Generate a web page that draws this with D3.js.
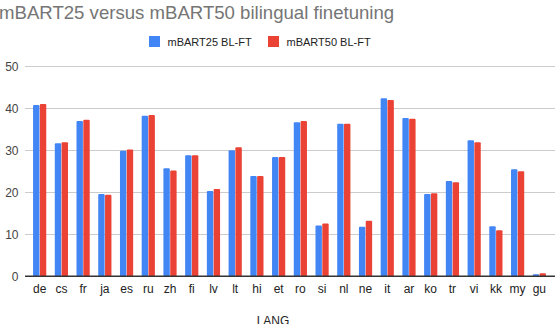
<!DOCTYPE html>
<html><head><meta charset="utf-8">
<script src="https://cdn.jsdelivr.net/npm/d3@7"></script>
<style>html,body{margin:0;padding:0;background:#fff;overflow:hidden}</style>
</head><body>
<svg id="c" width="556" height="324"></svg>
<script>
const title = "mBART25 versus mBART50 bilingual finetuning";
const xTitle = "LANG";
const langs = ["de","cs","fr","ja","es","ru","zh","fi","lv","lt","hi","et","ro","si","nl","ne","it","ar","ko","tr","vi","kk","my","gu"];
const seriesNames = ["mBART25 BL-FT","mBART50 BL-FT"];
const mbart25 = [40.8,31.7,37.0,19.6,29.9,38.2,25.7,28.8,20.3,30.0,23.9,28.4,36.7,12.1,36.3,11.8,42.4,37.7,19.6,22.7,32.4,11.9,25.5,0.5];
const mbart50 = [41.0,31.9,37.3,19.4,30.2,38.4,25.2,28.8,20.8,30.7,23.9,28.4,37.0,12.6,36.3,13.2,42.0,37.5,19.8,22.4,31.9,10.95,25.0,0.7];
const yTicks = [0,10,20,30,40,50];
const colors = ["#4285F4","#EA4335"];

const svg = d3.select("#c");
const font = "'Liberation Sans', Arial, sans-serif";
const y = d3.scaleLinear().domain([0,50]).range([276.3,66.3]);
const x = d3.scaleBand().domain(langs).range([28.8,550.2]);
const x1 = d3.scaleBand().domain(seriesNames).range([x.bandwidth()/2-6.6, x.bandwidth()/2+6.6]).paddingInner(0.06);

// gridlines
svg.append("g").selectAll("line").data(yTicks.filter(d=>d>0)).join("line")
  .attr("x1",25).attr("x2",555).attr("y1",d=>Math.round(y(d))+0.5).attr("y2",d=>Math.round(y(d))+0.5)
  .attr("stroke","#cccccc").attr("stroke-width",1);

// y labels
const yAxis = d3.axisLeft(y).tickValues(yTicks).tickSize(0).tickPadding(0);
const ga = svg.append("g").attr("transform","translate(18.5,0)").call(yAxis);
ga.select(".domain").remove();
ga.selectAll("text").attr("font-family",font).attr("font-size",12).attr("fill","#444").attr("text-anchor","end");

// bars
const data = langs.map((l,i)=>({lang:l, vals:[mbart25[i], mbart50[i]]}));
const groups = svg.append("g").selectAll("g").data(data).join("g")
  .attr("transform",d=>`translate(${x(d.lang)},0)`);
groups.selectAll("rect").data(d=>d.vals.map((v,j)=>({v,j}))).join("rect")
  .attr("x",d=>x1(seriesNames[d.j])).attr("width",x1.bandwidth())
  .attr("y",d=>y(d.v)).attr("height",d=>y(0)-y(d.v))
  .attr("rx",1).attr("fill",d=>colors[d.j]);

// baseline
svg.append("line").attr("x1",25).attr("x2",555).attr("y1",276.3).attr("y2",276.3)
  .attr("stroke","#333").attr("stroke-width",1.5);

// x labels
const xAxis = d3.axisBottom(x).tickSize(0).tickPadding(0);
const gx = svg.append("g").attr("transform","translate(0,284)").call(xAxis);
gx.select(".domain").remove();
gx.selectAll("text").attr("font-family",font).attr("font-size",12).attr("fill","#222").attr("dy","0.71em");

// axis title
svg.append("text").attr("x",273).attr("y",324.5).attr("text-anchor","middle")
  .attr("font-family",font).attr("font-size",12).attr("fill","#222").text(xTitle);

// title
svg.append("text").attr("x",-1).attr("y",18.5).attr("font-family",font).attr("font-size",18.6)
  .attr("fill","#757575").text(title);

// legend
const leg = svg.append("g");
const legX = [149,268];
seriesNames.forEach((s,i)=>{
  leg.append("rect").attr("x",legX[i]).attr("y",36).attr("width",11).attr("height",11).attr("fill",colors[i]);
  leg.append("text").attr("x",legX[i]+18.5).attr("y",45.5).attr("font-family",font).attr("font-size",11)
    .attr("fill","#222").text(s);
});
</script>
</body></html>
